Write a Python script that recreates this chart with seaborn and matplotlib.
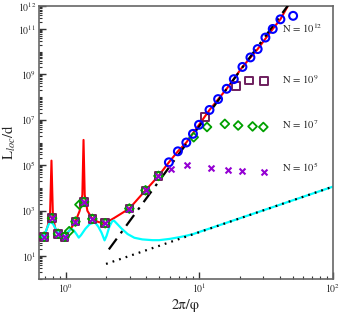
import numpy as np
import pandas as pd
import matplotlib
matplotlib.use("Agg")
import matplotlib.pyplot as plt
import matplotlib.ticker as mticker
import seaborn as sns

# ---------------- data ----------------
# red curve (L_loc/d for large N)
red_x = [0.687, 0.73, 0.762, 0.781, 0.800, 0.83, 0.875, 0.93, 0.98, 1.08, 1.18, 1.27,
         1.33, 1.357, 1.385, 1.45, 1.58, 1.75, 1.97, 2.3, 2.6, 2.99, 3.95, 4.94, 5.91,
         6.9, 7.98, 9.93, 11.9, 16.0, 21.0, 27.3, 35.4, 40.4, 48.0]
red_y = [72, 200, 700, 1.6e5, 700, 180, 97, 70, 72, 150, 335, 1000,
         5000, 1.3e6, 5000, 1000, 440, 320, 283, 480, 750, 1250, 7900, 3.4e4, 1.35e5,
         4.1e5, 1.0e6, 6.0e6, 2.7e7, 2.3e8, 2.1e9, 1.28e10, 9.8e10, 2.6e11, 1.6e12]

# cyan curve
cyan_x = [0.63, 0.68, 0.72, 0.75, 0.771, 0.80, 0.84, 0.90, 0.96, 0.99, 1.03, 1.08, 1.11,
          1.15, 1.20, 1.25, 1.30, 1.40, 1.50, 1.60, 1.66, 1.75, 1.85, 1.95, 2.02, 2.12,
          2.22, 2.29, 2.40, 2.60, 2.90, 3.26, 3.74, 4.45, 5.0, 6.0, 7.0, 8.0, 9.0, 10.0,
          12.0, 15.0, 20.0, 30.0, 40.0, 60.0, 100.0]
cyan_y = [80, 66, 160, 280, 316, 270, 160, 85, 55, 70, 110, 150, 158,
          135, 95, 66, 85, 160, 250, 300, 300, 200, 110, 50, 80, 200,
          340, 372, 280, 170, 95, 65, 55, 51, 51, 58, 68, 80, 95, 118,
          168, 262, 465, 1040, 1840, 4140, 11500]

# asymptotes
dashdot_x = [2.1, 48.0]
dashdot_y = [20, 1.48e12]
dotted_x = [2.0, 100.0]
dotted_y = [4.6, 11500]

# shared low-x points
low_x = [0.687, 0.789, 0.875, 0.98, 1.18, 1.37, 1.58, 1.97, 2.99, 3.95, 4.94]
low_y = [72, 470, 97, 72, 335, 2450, 440, 283, 1250, 7900, 3.4e4]

# N = 10^12 (circles)
c12_x = [5.91, 6.9, 7.98, 8.95, 9.93, 11.9, 13.8, 16.0, 18.1, 21.0, 24.1, 27.3, 31.2,
         35.4, 40.4, 50.3]
c12_y = [1.35e5, 4.1e5, 1.0e6, 2.4e6, 6.0e6, 2.7e7, 8.1e7, 2.3e8, 6.1e8, 2.1e9, 5.5e9,
         1.28e10, 4.1e10, 9.8e10, 2.6e11, 3.7e11]

# N = 10^9 (squares)
s9_x = low_x + [11.0, 18.8, 23.5, 30.5]
s9_y = low_y + [1.3e7, 3.1e8, 5.3e8, 5.0e8]

# N = 10^7 (diamonds)
d7_x = low_x + [1.06, 1.265, 9.06, 11.4, 15.5, 19.5, 25.0, 30.1]
d7_y = low_y + [126, 1860, 1.7e6, 4.8e6, 6.6e6, 5.6e6, 5.1e6, 4.8e6]

# N = 10^5 (crosses)
x5_x = low_x + [6.09, 8.03, 12.2, 16.4, 20.8, 30.4]
x5_y = low_y + [7.1e4, 1.07e5, 7.6e4, 6.4e4, 5.8e4, 4.9e4]

labels = [r"N = 10$^{12}$", r"N = 10$^{9}$", r"N = 10$^{7}$", r"N = 10$^{5}$"]
label_pos = [0.900, 0.714, 0.548, 0.391]

# ---------------- style ----------------
sns.set_style("ticks")
plt.rcParams["font.family"] = ["STIXGeneral", "Liberation Serif", "DejaVu Serif"]
plt.rcParams["mathtext.fontset"] = "stix"

fig = plt.figure(figsize=(3.41, 3.13), dpi=100)
ax = fig.add_axes([0.1144, 0.1086, 0.8621, 0.8722])
ax.set_xscale("log")
ax.set_yscale("log")

sns.lineplot(x=red_x, y=red_y, sort=False, estimator=None, color="#ff0000", lw=1.5, ax=ax, zorder=2)
sns.lineplot(x=dashdot_x, y=dashdot_y, sort=False, estimator=None, color="black", lw=1.6,
             ax=ax, zorder=3)
ax.lines[-1].set_linestyle((0, (6, 3, 1.2, 3)))
sns.lineplot(x=cyan_x, y=cyan_y, sort=False, estimator=None, color="#00ffff", lw=1.6, ax=ax, zorder=2)
sns.lineplot(x=dotted_x, y=dotted_y, sort=False, estimator=None, color="black", lw=1.6, ax=ax, zorder=3)
ax.lines[-1].set_linestyle((0, (0.8, 2.3)))

sns.scatterplot(x=s9_x, y=s9_y, marker="s", s=30, color="none", edgecolor="#6e1f5e",
                linewidth=1.4, ax=ax, zorder=4)
sns.scatterplot(x=d7_x, y=d7_y, marker="D", s=20, color="none", edgecolor="#00a000",
                linewidth=1.3, ax=ax, zorder=4)
sns.scatterplot(x=c12_x, y=c12_y, marker="o", s=32, color="none", edgecolor="#0000ff",
                linewidth=1.5, ax=ax, zorder=5)
sns.scatterplot(x=x5_x, y=x5_y, marker="x", s=18, color="#9400d3", linewidth=1.5,
                ax=ax, zorder=6)

for t, yp in zip(labels, label_pos):
    ax.text(0.826, yp, t, transform=ax.transAxes, fontsize=7.7, va="baseline", ha="left")

ax.set_xlim(0.63, 100)
ax.set_ylim(1, 1e12)

ax.xaxis.set_major_locator(mticker.FixedLocator([1, 10, 100]))
xminor = [k * 10.0 ** e for e in (-1, 0, 1) for k in range(2, 10)]
ax.xaxis.set_minor_locator(mticker.FixedLocator(xminor))
ax.xaxis.set_major_formatter(mticker.LogFormatterSciNotation())
ax.xaxis.set_minor_formatter(mticker.NullFormatter())

ymaj = [1e1, 1e3, 1e5, 1e7, 1e9, 1e11, 1e12]
ax.yaxis.set_major_locator(mticker.FixedLocator(ymaj))
yminor = [k * 10.0 ** e for e in range(0, 12) for k in range(1, 10) if k * 10.0 ** e not in ymaj]
ax.yaxis.set_minor_locator(mticker.FixedLocator(yminor))
ax.yaxis.set_major_formatter(mticker.LogFormatterSciNotation())
ax.yaxis.set_minor_formatter(mticker.NullFormatter())

ax.tick_params(which="both", direction="in", top=False, right=False, color="#333333")
ax.tick_params(which="major", length=5, width=1.0, labelsize=7, pad=2)
ax.tick_params(which="minor", length=2.5, width=0.8)

for sp in ax.spines.values():
    sp.set_visible(True)
    sp.set_color("#666666")
    sp.set_linewidth(1.2)

ax.set_xlabel("2π/φ", fontsize=10.5, labelpad=2)
ax.set_ylabel(r"L$_{loc}$/d", fontsize=10.5, labelpad=0)

fig.savefig("out.png", dpi=100)
